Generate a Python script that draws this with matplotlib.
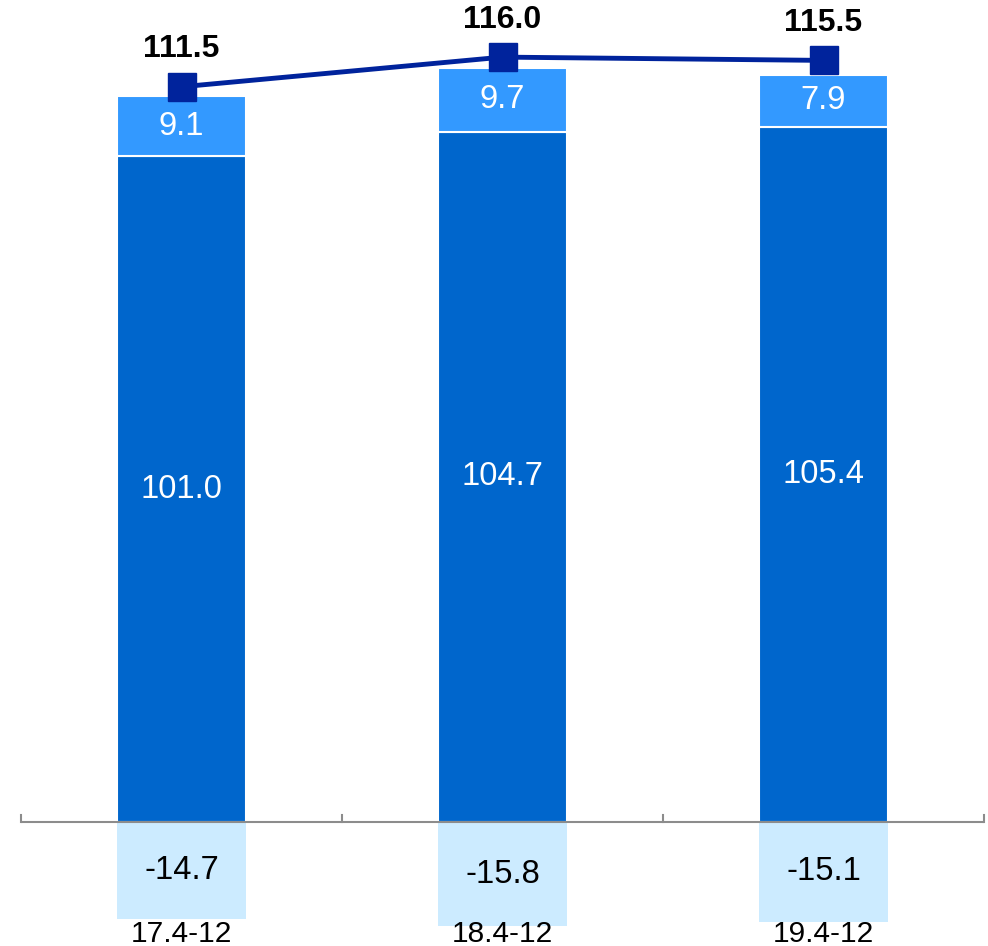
import matplotlib
matplotlib.use("Agg")
import matplotlib.pyplot as plt

categories = ["17.4-12", "18.4-12", "19.4-12"]
main_vals = [101.0, 104.7, 105.4]
top_vals = [9.1, 9.7, 7.9]
neg_vals = [-14.7, -15.8, -15.1]
totals = [111.5, 116.0, 115.5]

plt.rcParams['font.family'] = ['Liberation Sans', 'DejaVu Sans']

fig = plt.figure(figsize=(9.88, 9.46), dpi=100)
ax = fig.add_axes([21/988, 0, 963/988, 1])
x = list(range(len(categories)))
w = 0.40

c_main = '#0066CC'
c_top = '#3399FF'
c_neg = '#CCEBFF'
c_line = '#00239C'

ax.bar(x, main_vals, width=w, color=c_main, edgecolor='white', linewidth=1.5, zorder=2)
ax.bar(x, top_vals, width=w, bottom=main_vals, color=c_top, edgecolor='white', linewidth=1.5, zorder=2)
ax.bar(x, neg_vals, width=w, color=c_neg, linewidth=0, zorder=2)
ax.plot(x, totals, color=c_line, lw=3.5, marker='s', ms=20, zorder=4)

for i in x:
    ax.text(i, main_vals[i] / 2, f"{main_vals[i]:.1f}", ha='center', va='center', color='white', fontsize=23.5, zorder=5)
    ax.text(i, main_vals[i] + top_vals[i] / 2, f"{top_vals[i]:.1f}", ha='center', va='center', color='white', fontsize=23.5, zorder=5)
    ax.text(i, neg_vals[i] / 2, f"{neg_vals[i]:.1f}", ha='center', va='center', color='black', fontsize=23.5, zorder=5)
    ax.text(i, totals[i] + 5.7, f"{totals[i]:.1f}", ha='center', va='center', color='black', fontsize=23, fontweight='bold', zorder=5)
    ax.text(i, -17.0, categories[i], ha='center', va='center', color='black', fontsize=21.5, zorder=5, clip_on=False)

ax.set_xlim(-0.5, 2.5)
ax.set_ylim(-18.8, 124.66)
for s in ['top', 'right', 'left', 'bottom']:
    ax.spines[s].set_visible(False)
ax.axhline(0, color='#8C8C8C', lw=1.5, zorder=3)
for b in [-0.5, 0.5, 1.5, 2.5]:
    ax.plot([b, b], [0, 1.1], color='#8C8C8C', lw=1.5, zorder=3, clip_on=False)
ax.set_xticks([])
ax.set_yticks([])

fig.savefig("out.png", dpi=100)
